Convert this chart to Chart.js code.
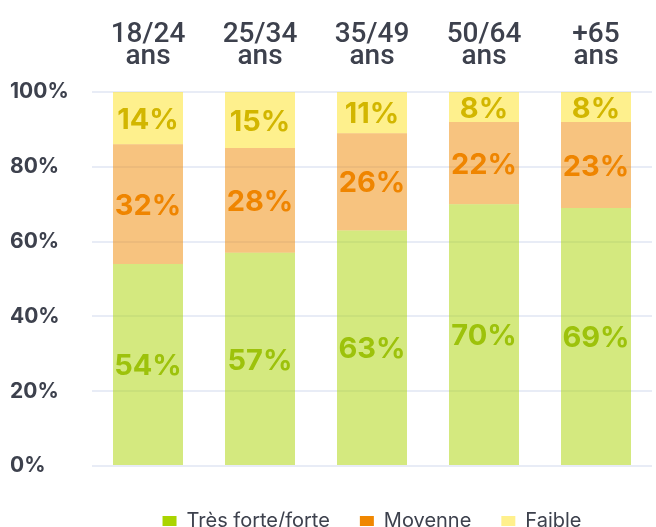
<!DOCTYPE html>
<html><head><meta charset="utf-8">
<script src="https://cdn.jsdelivr.net/npm/chart.js@4"></script>
<style>html,body{margin:0;padding:0;overflow:hidden;background:#fff}#wrap{width:656px;height:541px;position:relative}</style>
</head><body><div id="wrap"><canvas id="c"></canvas></div>
<script>
const categories = [['18/24','ans'],['25/34','ans'],['35/49','ans'],['50/64','ans'],['+65','ans']];
const seriesNames = ['Très forte/forte','Moyenne','Faible'];
const forte = [54,57,63,70,69];
const moyenne = [32,28,26,22,23];
const faible = [14,15,11,8,8];
const yTicks = [0,20,40,60,80,100];

const barColors = ['rgba(170,212,0,0.5)','rgba(240,136,0,0.5)','rgba(254,232,80,0.65)'];
const legendColors = ['#aad400','#f08700','#fff08c'];
const labelColors = ['#9dc20b','#ef8500','#d2b600'];
const textColor = '#3d414d';

const valueLabels = {
  id: 'valueLabels',
  afterDatasetsDraw(chart) {
    const ctx = chart.ctx;
    chart.data.datasets.forEach((ds, i) => {
      const meta = chart.getDatasetMeta(i);
      meta.data.forEach((bar, j) => {
        ctx.save();
        ctx.font = 'bold 29px Inter';
        ctx.fillStyle = labelColors[i];
        ctx.textAlign = 'center';
        ctx.textBaseline = 'middle';
        ctx.fillText(ds.data[j] + '%', bar.x, (bar.y + bar.base) / 2 + 2);
        ctx.restore();
      });
    });
  }
};

new Chart(document.getElementById('c'), {
  type: 'bar',
  data: {
    labels: categories,
    datasets: [
      { label: seriesNames[0], data: forte, backgroundColor: barColors[0], borderWidth: 0 },
      { label: seriesNames[1], data: moyenne, backgroundColor: barColors[1], borderWidth: 0 },
      { label: seriesNames[2], data: faible, backgroundColor: barColors[2], borderWidth: 0 }
    ]
  },
  options: {
    responsive: true,
    maintainAspectRatio: false,
    animation: false,
    devicePixelRatio: 1,
    layout: { padding: { left: 10, right: 4, top: 0, bottom: 0 } },
    datasets: { bar: { categoryPercentage: 1, barPercentage: 0.625 } },
    scales: {
      x: {
        stacked: true,
        position: 'top',
        grid: { display: false, drawTicks: false },
        border: { display: false },
        ticks: { z: 1, padding: 24, color: textColor, font: { family: 'Roboto', size: 28, weight: '500', lineHeight: 0.78 } },
        afterFit(s) { s.height = 92; }
      },
      xPad: {
        type: 'category',
        position: 'bottom',
        display: true,
        grid: { display: false, drawTicks: false },
        border: { display: false },
        ticks: { display: false },
        afterFit(s) { s.height = 15; }
      },
      y: {
        stacked: true,
        min: 0, max: 100,
        afterBuildTicks(s) { s.ticks = yTicks.map(v => ({ value: v })); },
        grid: { color: '#e8ecf6', lineWidth: 2, drawTicks: false },
        border: { display: false },
        ticks: { crossAlign: 'far', padding: 0, color: textColor, font: { family: 'Inter', size: 21, weight: 'bold' }, callback: v => v + '%' },
        afterFit(s) { s.width = 82; }
      }
    },
    plugins: {
      tooltip: { enabled: false },
      legend: {
        position: 'bottom',
        fullSize: false,
        labels: {
          boxWidth: 14, boxHeight: 10, padding: 30,
          color: textColor,
          font: { family: 'Inter', size: 20 },
          generateLabels(chart) {
            return chart.data.datasets.map((ds, i) => ({
              text: ds.label, fillStyle: legendColors[i], strokeStyle: legendColors[i],
              lineWidth: 0, hidden: false, datasetIndex: i, fontColor: textColor
            }));
          }
        }
      }
    }
  },
  plugins: [valueLabels]
});
</script>
</body></html>
